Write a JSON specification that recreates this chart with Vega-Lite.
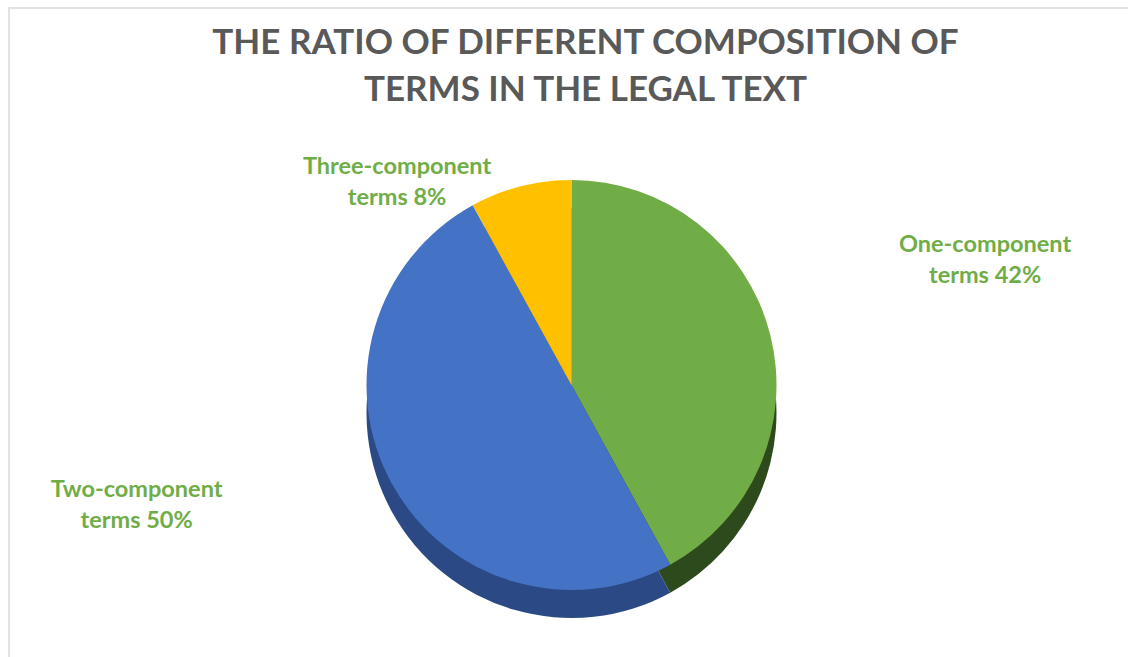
{
  "$schema": "https://vega.github.io/schema/vega-lite/v6.json",
  "autosize": "none",
  "width": 1125,
  "height": 754,
  "padding": {"left": 9, "top": 8, "right": 0, "bottom": 0},
  "background": "white",
  "view": {"stroke": "#d9d9d9", "strokeWidth": 1.5},
  "title": {
    "text": ["THE RATIO OF DIFFERENT COMPOSITION OF", "TERMS IN THE LEGAL TEXT"],
    "font": "Lato",
    "fontSize": 35,
    "fontWeight": "bold",
    "color": "#595959",
    "lineHeight": 47,
    "frame": "group",
    "offset": -100,
    "dx": 14,
    "anchor": "middle"
  },
  "data": {
    "values": [
      {"term": "One-component terms", "pct": 42, "order": 1},
      {"term": "Two-component terms", "pct": 50, "order": 2},
      {"term": "Three-component terms", "pct": 8, "order": 3}
    ]
  },
  "encoding": {
    "theta": {"field": "pct", "type": "quantitative", "stack": true},
    "order": {"field": "order", "type": "quantitative"}
  },
  "layer": [
    {
      "mark": {"type": "arc", "outerRadius": 205, "yOffset": 28},
      "encoding": {
        "fill": {
          "field": "term",
          "type": "nominal",
          "legend": null,
          "scale": {
            "domain": ["One-component terms", "Two-component terms", "Three-component terms"],
            "range": ["#2d4a1c", "#2b4a85", "#b38700"]
          }
        }
      }
    },
    {
      "mark": {"type": "arc", "outerRadius": 205},
      "encoding": {
        "color": {
          "field": "term",
          "type": "nominal",
          "legend": null,
          "scale": {
            "domain": ["One-component terms", "Two-component terms", "Three-component terms"],
            "range": ["#70ad47", "#4472c4", "#ffc000"]
          }
        }
      }
    },
    {
      "mark": {"type": "text", "radius": 300, "dx": 123, "dy": -65, "font": "Lato", "fontSize": 23.5, "fontWeight": "bold", "color": "#70ad47", "lineBreak": "\n", "lineHeight": 31, "align": "center", "baseline": "middle"},
      "encoding": {
        "text": {"condition": {"test": "datum.term === 'One-component terms'", "value": "One-component\nterms 42%"}, "value": ""}
      }
    },
    {
      "mark": {"type": "text", "radius": 300, "dx": -172, "dy": -40, "font": "Lato", "fontSize": 23.5, "fontWeight": "bold", "color": "#70ad47", "lineBreak": "\n", "lineHeight": 31, "align": "center", "baseline": "middle"},
      "encoding": {
        "text": {"condition": {"test": "datum.term === 'Two-component terms'", "value": "Two-component\nterms 50%"}, "value": ""}
      }
    },
    {
      "mark": {"type": "text", "radius": 215, "dx": -121, "dy": -10, "font": "Lato", "fontSize": 23.5, "fontWeight": "bold", "color": "#70ad47", "lineBreak": "\n", "lineHeight": 31, "align": "center", "baseline": "middle"},
      "encoding": {
        "text": {"condition": {"test": "datum.term === 'Three-component terms'", "value": "Three-component\nterms 8%"}, "value": ""}
      }
    }
  ]
}
